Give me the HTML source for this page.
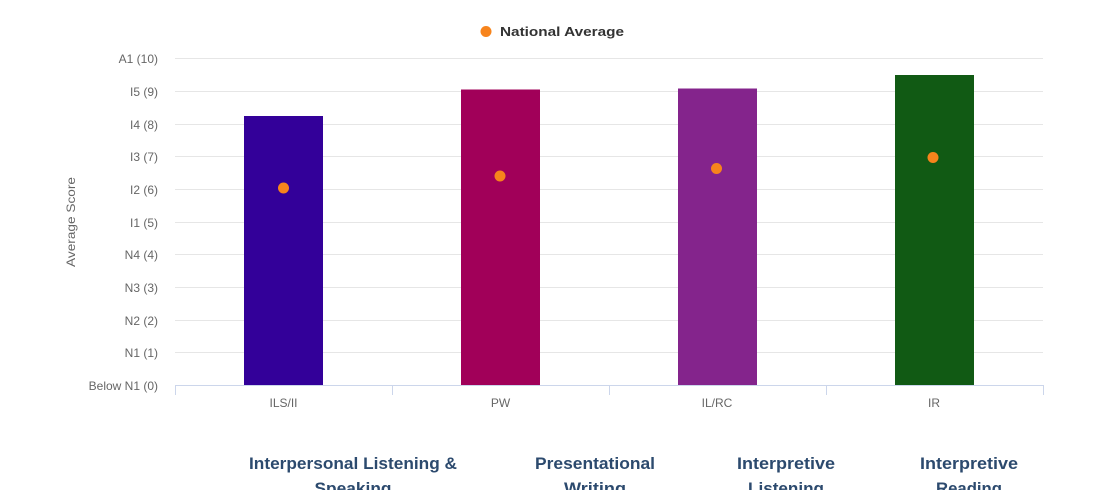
<!DOCTYPE html>
<html>
<head>
<meta charset="utf-8">
<style>
html,body{margin:0;padding:0;background:#fff;}
body{width:1100px;height:490px;overflow:hidden;}
svg{display:block;}
</style>
</head>
<body>
<svg width="1100" height="490" viewBox="0 0 1100 490" xmlns="http://www.w3.org/2000/svg" font-family="'Liberation Sans', sans-serif">
  <rect x="0" y="0" width="1100" height="490" fill="#fff"/>
  <!-- legend -->
  <circle cx="486" cy="31.5" r="5.5" fill="#f7841c"/>
  <text x="500" y="36" font-size="13" font-weight="bold" fill="#333" textLength="124" lengthAdjust="spacingAndGlyphs">National Average</text>

  <!-- gridlines -->
  <g stroke="#e6e6e6" stroke-width="1">
    <line x1="175" y1="58.5" x2="1043" y2="58.5"/>
    <line x1="175" y1="91.5" x2="1043" y2="91.5"/>
    <line x1="175" y1="124.5" x2="1043" y2="124.5"/>
    <line x1="175" y1="156.5" x2="1043" y2="156.5"/>
    <line x1="175" y1="189.5" x2="1043" y2="189.5"/>
    <line x1="175" y1="222.5" x2="1043" y2="222.5"/>
    <line x1="175" y1="254.5" x2="1043" y2="254.5"/>
    <line x1="175" y1="287.5" x2="1043" y2="287.5"/>
    <line x1="175" y1="320.5" x2="1043" y2="320.5"/>
    <line x1="175" y1="352.5" x2="1043" y2="352.5"/>
  </g>

  <!-- y labels -->
  <g font-size="12" fill="#666" text-anchor="end">
    <text x="158" y="63">A1 (10)</text>
    <text x="158" y="96">I5 (9)</text>
    <text x="158" y="129">I4 (8)</text>
    <text x="158" y="161">I3 (7)</text>
    <text x="158" y="194">I2 (6)</text>
    <text x="158" y="227">I1 (5)</text>
    <text x="158" y="259">N4 (4)</text>
    <text x="158" y="292">N3 (3)</text>
    <text x="158" y="325">N2 (2)</text>
    <text x="158" y="357">N1 (1)</text>
    <text x="158" y="390">Below N1 (0)</text>
  </g>
  <text transform="translate(75,222) rotate(-90)" font-size="12" fill="#666" text-anchor="middle" textLength="90" lengthAdjust="spacingAndGlyphs">Average Score</text>

  <!-- bars -->
  <rect x="244" y="116" width="79" height="269" fill="#330099"/>
  <rect x="461" y="89.5" width="79" height="295.5" fill="#a10059"/>
  <rect x="678" y="88.5" width="79" height="296.5" fill="#84248c"/>
  <rect x="895" y="75" width="79" height="310" fill="#115a14"/>

  <!-- axis -->
  <line x1="175" y1="385.5" x2="1043" y2="385.5" stroke="#ccd6eb" stroke-width="1"/>
  <g stroke="#ccd6eb" stroke-width="1">
    <line x1="175.5" y1="385" x2="175.5" y2="395"/>
    <line x1="392.5" y1="385" x2="392.5" y2="395"/>
    <line x1="609.5" y1="385" x2="609.5" y2="395"/>
    <line x1="826.5" y1="385" x2="826.5" y2="395"/>
    <line x1="1043.5" y1="385" x2="1043.5" y2="395"/>
  </g>

  <!-- national average dots -->
  <g fill="#f7841c">
    <circle cx="283.5" cy="188" r="5.5"/>
    <circle cx="500" cy="176" r="5.5"/>
    <circle cx="716.5" cy="168.5" r="5.5"/>
    <circle cx="933" cy="157.5" r="5.5"/>
  </g>

  <!-- x labels -->
  <g font-size="12" fill="#666" text-anchor="middle">
    <text x="283.5" y="407">ILS/II</text>
    <text x="500.5" y="407">PW</text>
    <text x="717" y="407">IL/RC</text>
    <text x="934" y="407">IR</text>
  </g>

  <!-- bottom labels -->
  <g font-size="17" font-weight="bold" fill="#2c4a6e" text-anchor="middle">
    <text x="353" y="469" textLength="208" lengthAdjust="spacingAndGlyphs">Interpersonal Listening &amp;</text>
    <text x="353" y="494" textLength="77" lengthAdjust="spacingAndGlyphs">Speaking</text>
    <text x="595" y="469" textLength="120" lengthAdjust="spacingAndGlyphs">Presentational</text>
    <text x="595" y="494" textLength="62" lengthAdjust="spacingAndGlyphs">Writing</text>
    <text x="786" y="469" textLength="98" lengthAdjust="spacingAndGlyphs">Interpretive</text>
    <text x="786" y="494" textLength="76" lengthAdjust="spacingAndGlyphs">Listening</text>
    <text x="969" y="469" textLength="98" lengthAdjust="spacingAndGlyphs">Interpretive</text>
    <text x="969" y="494" textLength="66" lengthAdjust="spacingAndGlyphs">Reading</text>
  </g>
</svg>
</body>
</html>
